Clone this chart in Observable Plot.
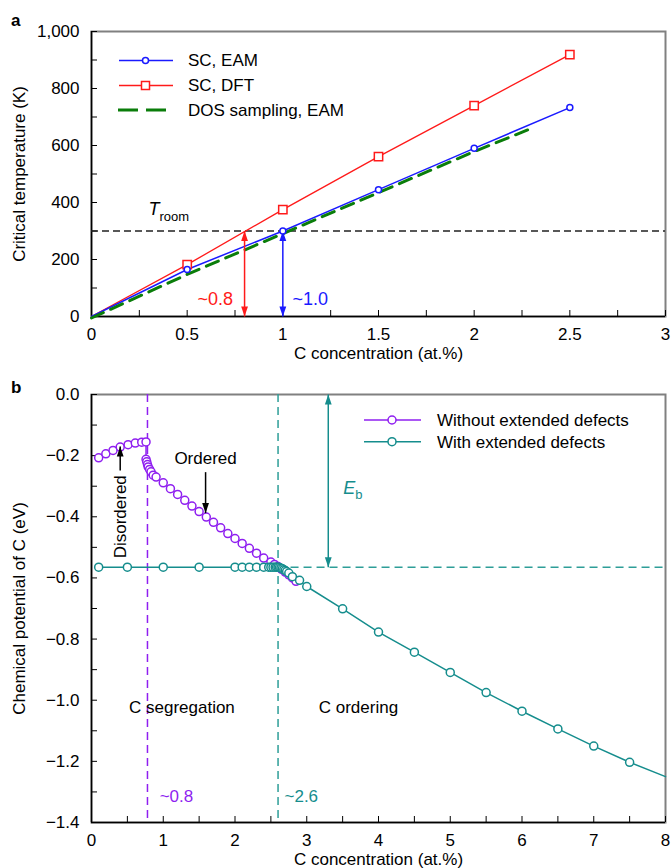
<!DOCTYPE html>
<html><head><meta charset="utf-8">
<script src="https://cdn.jsdelivr.net/npm/d3@7"></script>
<script src="https://cdn.jsdelivr.net/npm/@observablehq/plot@0.6"></script>
<style>
body{margin:0;background:#fff;font-family:'Liberation Sans',Arial,Helvetica,sans-serif;}
#wrap{position:relative;width:672px;height:868px;overflow:hidden;background:#fff;}
.pl{position:absolute;left:0;}
.lab{position:absolute;font-weight:bold;font-size:17px;line-height:1;}
</style></head><body>
<div id="wrap">
<div id="pa" class="pl" style="top:0"></div>
<div id="pb" class="pl" style="top:368px"></div>
<div class="lab" style="left:11px;top:12px">a</div>
<div class="lab" style="left:11px;top:379px">b</div>
<svg id="leg" width="672" height="868" style="position:absolute;left:0;top:0;pointer-events:none"></svg>
</div>
<script>
// ---------- Panel a data ----------
const aX_EAM = [0, 0.5, 1.0, 1.5, 2.0, 2.5];
const aT_EAM = [0, 165, 300, 445, 590, 733];
const aX_DFT = [0, 0.5, 1.0, 1.5, 2.0, 2.5];
const aT_DFT = [0, 182, 375, 561, 740, 919];
const aX_DOS = [0, 0.5, 1.0, 1.5, 2.0, 2.28];
const aT_DOS = [0, 153, 296, 440, 584, 660];
const aTroom = 300;
const aXTicks = [0, 0.5, 1, 1.5, 2, 2.5, 3];
const aXMinor = [0.25, 0.75, 1.25, 1.75, 2.25, 2.75];
const aYTicks = [0, 200, 400, 600, 800, 1000];
const aYMinor = [100, 300, 500, 700, 900];
const aArrowX = [0.8, 1.0];
const aArrowLabels = ["~0.8", "~1.0"];
const aArrowLabelX = [0.74, 1.05];
const aArrowLabelY = 62;
const aLegend = ["SC, EAM", "SC, DFT", "DOS sampling, EAM"];

// ---------- Panel b data ----------
const bX_noDef = [0.1,0.2,0.3,0.4,0.51,0.61,0.70,0.76,0.76,0.77,0.78,0.79,0.81,0.83,0.86,0.9,1.0,1.1,1.2,1.3,1.4,1.5,1.6,1.7,1.8,1.9,2.0,2.1,2.2,2.3,2.4,2.5,2.55,2.6,2.65,2.7,2.75,2.8,2.85];
const bY_noDef = [-0.207,-0.194,-0.183,-0.172,-0.164,-0.159,-0.156,-0.155,-0.212,-0.220,-0.229,-0.237,-0.245,-0.253,-0.264,-0.270,-0.289,-0.308,-0.327,-0.346,-0.365,-0.383,-0.401,-0.418,-0.436,-0.455,-0.471,-0.487,-0.503,-0.519,-0.535,-0.548,-0.556,-0.563,-0.572,-0.581,-0.590,-0.600,-0.611];
const bX_def = [0.1,0.5,1.0,1.5,2.0,2.1,2.2,2.3,2.4,2.47,2.5,2.53,2.56,2.58,2.6,2.62,2.64,2.66,2.68,2.7,2.72,2.75,2.8,2.9,3.0,3.5,4.0,4.5,5.0,5.5,6.0,6.5,7.0,7.5,8.0];
const bY_def = [-0.565,-0.565,-0.565,-0.565,-0.565,-0.565,-0.565,-0.565,-0.565,-0.565,-0.565,-0.565,-0.565,-0.565,-0.565,-0.566,-0.568,-0.570,-0.573,-0.576,-0.579,-0.584,-0.596,-0.608,-0.628,-0.701,-0.777,-0.843,-0.909,-0.975,-1.036,-1.094,-1.150,-1.203,-1.250];
const bMarkerMaxX = 7.9;
const bXTicks = [0,1,2,3,4,5,6,7,8];
const bXMinor = [0.5,1.5,2.5,3.5,4.5,5.5,6.5,7.5];
const bYTicks = [0,-0.2,-0.4,-0.6,-0.8,-1.0,-1.2,-1.4];
const bYMinor = [-0.1,-0.3,-0.5,-0.7,-0.9,-1.1,-1.3];
const bSegX = 0.78, bOrdX = 2.6, bEbLevel = -0.565, bEbX = 3.3;
const bRegionLabels = ["C segregation", "C ordering"];
const bRegionX = [1.26, 3.72];
const bRegionY = -1.023;
const bThreshLabels = ["~0.8", "~2.6"];
const bThreshX = [0.95, 2.69];
const bThreshY = -1.314;
const bLegend = ["Without extended defects", "With extended defects"];

// ---------- styles ----------
const FONT = "'Liberation Sans', Arial, Helvetica, sans-serif";
const FS = 17;
const BLUE = "#1a1aff", RED = "#ff1a1a", GREEN = "#0a7d0a";
const PURPLE = "#8f1ff0", TEAL = "#158d8d", TEALD = "#2e9e98";

const headShape = {draw(ctx, l) { const w = l * 0.34; ctx.moveTo(0, -l); ctx.lineTo(-w, 0); ctx.lineTo(w, 0); ctx.closePath(); }};
function arrowMarks(arrows) {
  const heads = [];
  for (const a of arrows) {
    heads.push({x: a.x, y: a.y2, rot: a.y2 > a.y1 ? 0 : 180, c: a.c});
    if (a.both) heads.push({x: a.x, y: a.y1, rot: a.y1 > a.y2 ? 0 : 180, c: a.c});
  }
  return [
    Plot.link(arrows, {x1: "x", x2: "x", y1: "y1", y2: "y2", stroke: "c", strokeWidth: 1.5}),
    Plot.vector(heads, {x: "x", y: "y", rotate: "rot", length: 10, anchor: "end", shape: headShape, fill: "c", stroke: "none"})
  ];
}
const zip = (xs, ys) => xs.map((x, i) => ({x, y: ys[i]}));

// ---------- Panel a ----------
const aEAM = zip(aX_EAM, aT_EAM), aDFT = zip(aX_DFT, aT_DFT), aDOS = zip(aX_DOS, aT_DOS);
const aArrows = [
  {x: aArrowX[0], y1: 0, y2: aTroom, c: RED, both: true},
  {x: aArrowX[1], y1: 0, y2: aTroom, c: BLUE, both: true}
];
const pa = Plot.plot({
  width: 672, height: 368, marginTop: 31, marginLeft: 91, marginRight: 7, marginBottom: 52,
  style: {fontFamily: FONT, fontSize: FS + "px", color: "black", background: "white", overflow: "visible"},
  x: {domain: [0, 3]}, y: {domain: [0, 1000]},
  marks: [
    Plot.frame({stroke: "#808080", strokeWidth: 2}),
    Plot.ruleY([0], {stroke: "black", strokeWidth: 1.5}),
    Plot.ruleX([0], {stroke: "black", strokeWidth: 1.5}),
    Plot.axisX(aXTicks, {tickSize: -6, tickPadding: 17, tickFormat: d => String(d), label: "C concentration (at.%)", labelAnchor: "center", labelOffset: 42, labelArrow: "none"}),
    Plot.axisX(aXMinor, {tickSize: -6, tickFormat: () => "", label: null}),
    Plot.axisY(aYTicks, {tickSize: -6, tickPadding: 18, tickFormat: d3.format(","), label: "Critical temperature (K)", labelAnchor: "center", labelOffset: 79, labelArrow: "none"}),
    Plot.axisY(aYMinor, {tickSize: -6, tickFormat: () => "", label: null}),
    Plot.ruleY([aTroom], {stroke: "#222", strokeWidth: 1.5, strokeDasharray: "7,4"}),
    Plot.text(["T"], {x: 0.298, y: 375, text: d => d, textAnchor: "start", fontStyle: "italic", fontSize: 18}),
    Plot.text(["room"], {x: 0.298, y: 375, text: d => d, textAnchor: "start", dx: 11, dy: 7, fontSize: 13}),
    Plot.line(aDFT, {x: "x", y: "y", stroke: RED, strokeWidth: 1.3}),
    Plot.line(aEAM, {x: "x", y: "y", stroke: BLUE, strokeWidth: 1.5}),
    Plot.line(aDOS, {x: "x", y: "y", stroke: GREEN, strokeWidth: 3, strokeDasharray: "13,8", dy: 1.5}),
    ...arrowMarks(aArrows),
    Plot.dot(aDFT.filter(d => d.x > 0), {x: "x", y: "y", symbol: "square", r: 4.7, fill: "white", stroke: RED, strokeWidth: 1.5}),
    Plot.dot(aEAM.filter(d => d.x > 0), {x: "x", y: "y", r: 3, fill: "white", stroke: BLUE, strokeWidth: 1.5}),
    Plot.text([aArrowLabels[0]], {x: aArrowLabelX[0], y: aArrowLabelY, text: d => d, textAnchor: "end", fill: RED, fontSize: 18}),
    Plot.text([aArrowLabels[1]], {x: aArrowLabelX[1], y: aArrowLabelY, text: d => d, textAnchor: "start", fill: BLUE, fontSize: 18})
  ]
});
document.getElementById("pa").appendChild(pa);

// ---------- Panel b ----------
const bNo = zip(bX_noDef, bY_noDef), bDef = zip(bX_def, bY_def);
const bArrows = [
  {x: bEbX, y1: 0, y2: bEbLevel, c: TEAL, both: true},
  {x: 0.40, y1: -0.249, y2: -0.170, c: "black", both: false},
  {x: 1.59, y1: -0.254, y2: -0.388, c: "black", both: false}
];
const pb = Plot.plot({
  width: 672, height: 500, marginTop: 26, marginLeft: 91, marginRight: 7, marginBottom: 46,
  style: {fontFamily: FONT, fontSize: FS + "px", color: "black", background: "white", overflow: "visible"},
  x: {domain: [0, 8]}, y: {domain: [-1.4, 0]},
  marks: [
    Plot.frame({stroke: "#808080", strokeWidth: 2}),
    Plot.ruleY([-1.4], {stroke: "black", strokeWidth: 1.5}),
    Plot.ruleX([0], {stroke: "black", strokeWidth: 1.5}),
    Plot.axisX(bXTicks, {tickSize: -6, tickPadding: 17, tickFormat: d => String(d), label: "C concentration (at.%)", labelAnchor: "center", labelOffset: 42, labelArrow: "none"}),
    Plot.axisX(bXMinor, {tickSize: -6, tickFormat: () => "", label: null}),
    Plot.axisY(bYTicks, {tickSize: -6, tickPadding: 18, tickFormat: d3.format(".1f"), label: "Chemical potential of C (eV)", labelAnchor: "center", labelOffset: 79, labelArrow: "none"}),
    Plot.axisY(bYMinor, {tickSize: -6, tickFormat: () => "", label: null}),
    Plot.ruleX([bSegX], {stroke: PURPLE, strokeWidth: 1.5, strokeDasharray: "8,5"}),
    Plot.ruleX([bOrdX], {stroke: TEALD, strokeWidth: 1.5, strokeDasharray: "8,5"}),
    Plot.ruleY([bEbLevel], {x1: bOrdX, x2: 8, stroke: TEALD, strokeWidth: 1.5, strokeDasharray: "8,5"}),
    Plot.line(bNo, {x: "x", y: "y", stroke: PURPLE, strokeWidth: 1.5}),
    Plot.dot(bNo, {x: "x", y: "y", r: 4, fill: "white", stroke: PURPLE, strokeWidth: 1.5}),
    Plot.line(bDef, {x: "x", y: "y", stroke: TEAL, strokeWidth: 1.5}),
    Plot.dot(bDef.filter(d => d.x <= bMarkerMaxX), {x: "x", y: "y", r: 4, fill: "white", stroke: TEAL, strokeWidth: 1.5}),
    ...arrowMarks(bArrows),
    Plot.text(["E"], {x: bEbX, y: -0.308, text: d => d, textAnchor: "start", dx: 15, fontStyle: "italic", fontSize: 18, fill: TEAL}),
    Plot.text(["b"], {x: bEbX, y: -0.308, text: d => d, textAnchor: "start", dx: 27, dy: 6, fontSize: 13, fill: TEAL}),
    Plot.text(["Ordered"], {x: 1.59, y: -0.21, text: d => d, fontSize: FS}),
    Plot.text(["Disordered"], {x: 0.404, y: -0.40, text: d => d, rotate: -90, fontSize: FS}),
    Plot.text(bRegionLabels, {x: (d, i) => bRegionX[i], y: bRegionY, text: d => d, fontSize: FS}),
    Plot.text(bThreshLabels, {x: (d, i) => bThreshX[i], y: bThreshY, text: d => d, textAnchor: "start", fill: (d, i) => i === 0 ? PURPLE : TEAL, fontSize: FS})
  ]
});
document.getElementById("pb").appendChild(pb);

// ---------- Legends (overlay) ----------
const leg = d3.select("#leg");
const aLegStyle = [
  {c: BLUE, sym: "circle"}, {c: RED, sym: "square"}, {c: GREEN, sym: "dash"}
];
const aLegY = [60.5, 85.5, 110];
aLegend.forEach((lab, i) => {
  const g = leg.append("g").attr("transform", `translate(0,${aLegY[i]})`);
  const s = aLegStyle[i];
  if (s.sym === "dash") {
    g.append("line").attr("x1", 118).attr("x2", 168).attr("stroke", s.c).attr("stroke-width", 3).attr("stroke-dasharray", "20,8");
  } else {
    g.append("line").attr("x1", 119).attr("x2", 173).attr("stroke", s.c).attr("stroke-width", 1.5);
    if (s.sym === "circle") g.append("circle").attr("cx", 145.5).attr("r", 3).attr("fill", "white").attr("stroke", s.c).attr("stroke-width", 1.5);
    else g.append("rect").attr("x", 141.5).attr("y", -4).attr("width", 8).attr("height", 8).attr("fill", "white").attr("stroke", s.c).attr("stroke-width", 1.5);
  }
  g.append("text").attr("x", 188).attr("dy", "0.35em").attr("font-family", FONT).attr("font-size", FS).text(lab);
});
const bLegColors = [PURPLE, TEAL];
const bLegY = [420, 441.7];
bLegend.forEach((lab, i) => {
  const g = leg.append("g").attr("transform", `translate(0,${bLegY[i]})`);
  g.append("line").attr("x1", 364).attr("x2", 421).attr("stroke", bLegColors[i]).attr("stroke-width", 1.5);
  g.append("circle").attr("cx", 392).attr("r", 4).attr("fill", "white").attr("stroke", bLegColors[i]).attr("stroke-width", 1.5);
  g.append("text").attr("x", 437).attr("dy", "0.35em").attr("font-family", FONT).attr("font-size", FS).text(lab);
});
</script>
</body></html>
